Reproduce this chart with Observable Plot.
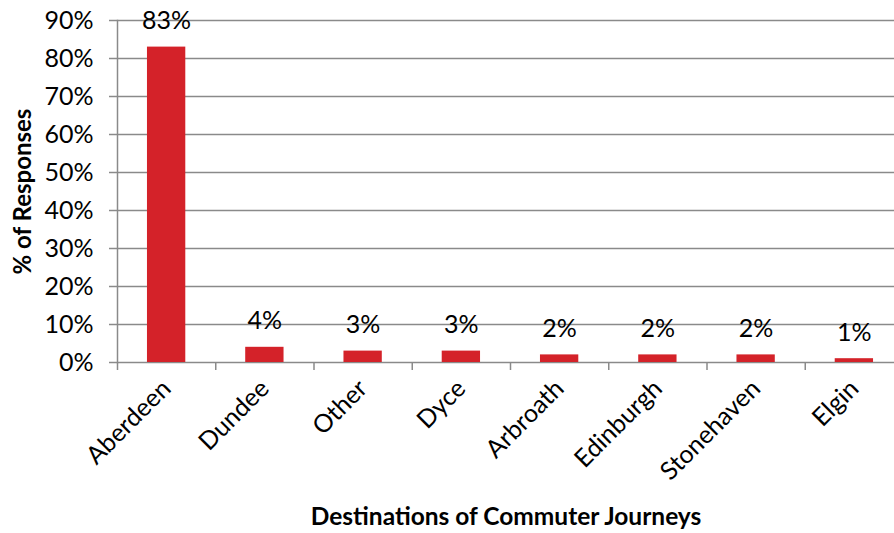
<!DOCTYPE html>
<html>
<head>
<meta charset="utf-8">
<script src="https://cdn.jsdelivr.net/npm/d3@7"></script>
<script src="https://cdn.jsdelivr.net/npm/@observablehq/plot@0.6"></script>
<style>
  html, body { margin: 0; padding: 0; background: #fff; overflow: hidden; }
  #chart svg { overflow: visible; }
</style>
</head>
<body>
<div id="chart"></div>
<script>
const categories = ["Aberdeen", "Dundee", "Other", "Dyce", "Arbroath", "Edinburgh", "Stonehaven", "Elgin"];
const values = [83, 4, 3, 3, 2, 2, 2, 1];
const yTicks = [0, 10, 20, 30, 40, 50, 60, 70, 80, 90];
const yTitle = "% of Responses";
const xTitle = "Destinations of Commuter Journeys";

const data = categories.map((c, i) => ({ category: c, index: i, value: values[i] }));
const font = "Lato, 'Open Sans', sans-serif";
const barColor = "#d42229";
const gridColor = "#8a8a8a";

const chart = Plot.plot({
  width: 894,
  height: 533,
  marginTop: 20,
  marginBottom: 171,
  marginLeft: 117,
  marginRight: 0,
  style: { fontFamily: font, fontSize: "25px", color: "#000", background: "#fff" },
  x: { type: "linear", domain: [0, categories.length], range: [117, 903] },
  y: { domain: [0, 90] },
  marks: [
    Plot.ruleY(yTicks, { stroke: gridColor, strokeWidth: 1.5 }),
    Plot.frame({ anchor: "left", stroke: gridColor, strokeWidth: 1.5 }),
    Plot.rectY(data, {
      x1: d => d.index + 0.305,
      x2: d => d.index + 0.695,
      y1: 0,
      y2: "value",
      fill: barColor
    }),
    Plot.text(data, {
      x: d => d.index + 0.5,
      y: "value",
      text: d => d.value + "%",
      dy: -26,
      fontSize: 25,
      fill: "#000"
    }),
    Plot.axisY({
      ticks: yTicks,
      tickFormat: d => d + "%",
      tickSize: 8,
      tickPadding: 16,
      stroke: gridColor,
      strokeWidth: 1.5,
      strokeOpacity: 1,
      fontSize: 25,
      label: null
    }),
    Plot.axisX({
      ticks: d3.range(categories.length + 1),
      tickFormat: () => "",
      tickSize: 8,
      stroke: gridColor,
      strokeWidth: 1.5,
      strokeOpacity: 1,
      label: null
    }),
    Plot.axisX({
      ticks: categories.map((c, i) => i + 0.5),
      tickFormat: i => categories[Math.floor(i)],
      tickSize: 0,
      tickPadding: 22,
      tickRotate: -45,
      fontSize: 25,
      label: null
    }),
    Plot.text([yTitle], {
      frameAnchor: "left",
      textAnchor: "middle",
      rotate: -90,
      dx: -94,
      fontWeight: "bold",
      fontSize: 24,
      fill: "#000"
    }),
    Plot.text([xTitle], {
      frameAnchor: "bottom",
      dy: 162,
      fontWeight: "bold",
      fontSize: 24.5,
      fill: "#000"
    })
  ]
});
document.getElementById("chart").appendChild(chart);
</script>
</body>
</html>
